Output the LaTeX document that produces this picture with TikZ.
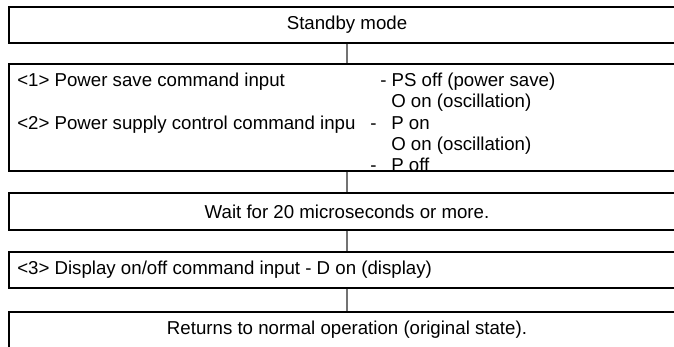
\documentclass[tikz,border=0pt]{standalone}
\usepackage{fontspec}
\setmainfont{Liberation Sans}
\begin{document}
\begin{tikzpicture}[x=0.75pt,y=-0.75pt,
  box/.style={draw=black, line width=1.1pt, rectangle, inner sep=0pt, minimum width=507pt},
  conn/.style={draw=black!55, line width=0.8pt},
  fnt/.style={font=\fontsize{14}{15.75}\selectfont},
  ltxt/.style={fnt, inner sep=0pt, anchor=base west},
  ctxt/.style={fnt, inner sep=0pt, anchor=center}]
\begin{scope}
\clip (0,0) rectangle (674,346);
\node[box, minimum height=27pt] (b1) at (347,25) {};
\node[box, minimum height=80.25pt] (b2) at (347,117.5) {};
\node[box, minimum height=27.75pt] (b3) at (347,211.5) {};
\node[box, minimum height=27pt] (b4) at (347,270) {};
\node[box, minimum height=28.5pt] (b5) at (347,331) {};
\end{scope}
\node[ctxt] (t1) at (347,25) {Standby mode};
\node[ltxt] (t2a) at (17,87) {<1> Power save command input};
\node[ltxt] (t2b) at (380,87) {- PS off (power save)};
\node[ltxt] (t2c) at (391,108) {O on (oscillation)};
\node[ltxt] (t2d) at (17,129) {<2> Power supply control command inpu};
\node[ltxt] (t2e) at (370,129) {-};
\node[ltxt] (t2f) at (391,129) {P on};
\node[ltxt] (t2g) at (391,150) {O on (oscillation)};
\node[ltxt] (t2h) at (370,171) {-};
\node[ltxt] (t2i) at (391,171) {P off};
\node[ctxt] (t3) at (347,211.5) {Wait for 20 microseconds or more.};
\node[ctxt, anchor=west] (t4) at (17,270) {<3> Display on/off command input - D on (display)};
\node[ctxt] (t5) at (347,330) {Returns to normal operation (original state).};
\draw[conn] (b1.south) -- (b2.north);
\draw[conn] (b2.south) -- (b3.north);
\draw[conn] (b3.south) -- (b4.north);
\draw[conn] (b4.south) -- (b5.north);
\pgfresetboundingbox
\useasboundingbox (0,0) rectangle (674,346);
\end{tikzpicture}
\end{document}
